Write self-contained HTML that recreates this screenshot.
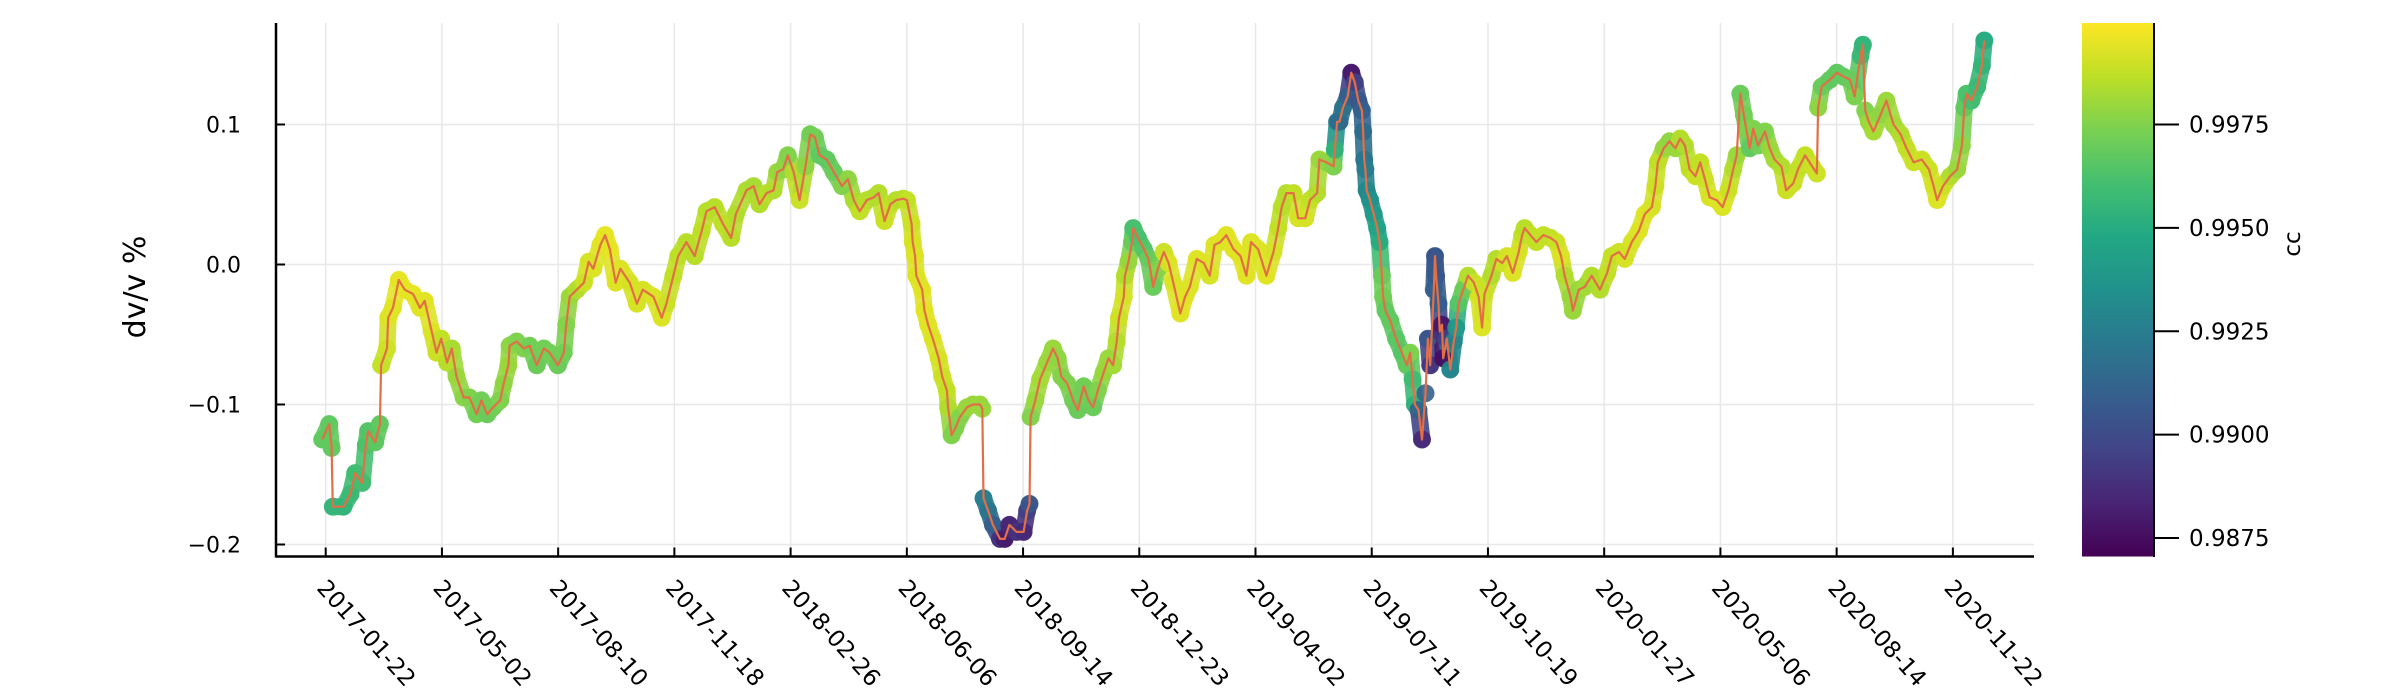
<!DOCTYPE html>
<html><head><meta charset="utf-8"><style>
html,body{margin:0;padding:0;background:#fff;}
svg{display:block;font-family:"DejaVu Sans","Liberation Sans",sans-serif;}
</style></head><body>
<svg id="chart" width="2400" height="700" viewBox="0 0 2400 700" xmlns="http://www.w3.org/2000/svg">
<defs>
<linearGradient id="viridis" x1="0" y1="1" x2="0" y2="0">
<stop offset="0" stop-color="#440154"/><stop offset="0.1" stop-color="#482475"/><stop offset="0.2" stop-color="#414487"/><stop offset="0.3" stop-color="#355f8d"/><stop offset="0.4" stop-color="#2a788e"/><stop offset="0.5" stop-color="#21918c"/><stop offset="0.6" stop-color="#22a884"/><stop offset="0.7" stop-color="#44bf70"/><stop offset="0.8" stop-color="#7ad151"/><stop offset="0.9" stop-color="#bddf26"/><stop offset="1" stop-color="#fde725"/>
</linearGradient>
<clipPath id="plotclip"><rect x="276" y="23" width="1758" height="534"/></clipPath>
</defs>
<g id="grid"></g>
<g id="marks" clip-path="url(#plotclip)"></g>
<g id="axes"></g>
<text x="0" y="0" font-size="30" text-anchor="middle" transform="translate(145,287) rotate(-90)">dv/v %</text>
<rect x="2082" y="23" width="72" height="533.5" fill="url(#viridis)"/>
<line x1="2154" y1="23" x2="2154" y2="557" stroke="#000" stroke-width="2"/>
<g id="cbticks"></g>
<text font-size="23" text-anchor="middle" transform="translate(2300,244) rotate(-90)">cc</text>
</svg>
<script>
const rawDays = [-3,3,5,6,15,21,25,31,34,36,42,46,47,52,53,57,62,67,74,80,84,90,94,98,103,107,111,117,122,128,132,137,142,148,151,155,156,162,168,173,179,185,190,197,202,204,207,213,219,223,227,233,237,241,246,250,258,264,269,278,285,289,295,299,306,313,319,323,330,337,344,348,357,363,
368,374,380,383,388,392,397,402,407,411,415,419,425,431,438,443,448,453,459,465,469,474,479,484,490,493,497,498,500,501,506,508,511,515,520,523,527,528,531,534,538,544,549,555,557,558,562,566,572,576,580,586,592,595,597,598,602,606,612,617,621,624,629,634,638,643,647,651,655,660,664,668,671,673,677,678,681,684,685,689,694,698,702,706,711,715,719,725,729,733,739,745,750,754,
759,764,770,776,781,785,791,798,804,808,811,815,821,825,831,835,841,843,849,855,856,858,860,863,867,870,873,876,879,880,881,882,883,886,889,892,894,896,897,899,903,908,913,917,920,922,924,927,930,933,935,937,940,941,942,944,945,947,948,951,954,957,959,961,965,969,974,978,981,983,989,993,998,1002,1007,1012,1015,1017,1022,1027,1033,1039,1044,1048,1051,1056,1058,1063,1068,1074,1081,1087,1091,1097,1102,1108,1114,1119,1125,1128,1130,1135,1140,1145,
1149,1153,1157,1162,1166,1170,1174,1180,1185,1190,1194,1197,1200,1203,1205,1208,1211,1215,1221,1225,1229,1235,1239,1245,1249,1255,1261,1265,1266,1269,1276,1282,1288,1293,1297,1302,1304,1306,1309,1313,1319,1324,1330,1336,1341,1347,1354,1360,1364,1367,1372,1378,1384,1388,1390,1392,1396,1401,1405,1407];
const days = rawDays.map(d => d * 1.0041);
const dvv = [-0.125,-0.114,-0.131,-0.173,-0.173,-0.164,-0.149,-0.156,-0.129,-0.119,-0.127,-0.114,-0.072,-0.060,-0.038,-0.031,-0.011,-0.018,-0.021,-0.031,-0.026,-0.048,-0.063,-0.053,-0.070,-0.060,-0.080,-0.095,-0.095,-0.107,-0.097,-0.107,-0.102,-0.097,-0.085,-0.072,-0.058,-0.055,-0.060,-0.058,-0.072,-0.060,-0.063,-0.072,-0.063,-0.043,-0.023,-0.018,-0.013,0.002,-0.003,0.014,0.021,0.011,-0.013,-0.003,-0.013,-0.028,-0.018,-0.023,-0.038,-0.028,-0.008,0.006,0.016,0.006,0.024,0.038,0.041,0.029,0.019,0.036,0.053,0.056,
0.043,0.051,0.053,0.066,0.068,0.078,0.066,0.046,0.070,0.093,0.091,0.078,0.075,0.066,0.056,0.061,0.046,0.038,0.046,0.048,0.051,0.031,0.043,0.046,0.047,0.046,0.029,0.016,0.006,-0.008,-0.018,-0.033,-0.043,-0.053,-0.067,-0.080,-0.090,-0.102,-0.122,-0.117,-0.109,-0.102,-0.100,-0.100,-0.103,-0.167,-0.176,-0.186,-0.196,-0.196,-0.186,-0.191,-0.191,-0.176,-0.171,-0.109,-0.097,-0.082,-0.070,-0.060,-0.067,-0.080,-0.085,-0.097,-0.104,-0.087,-0.097,-0.102,-0.090,-0.077,-0.067,-0.072,-0.055,-0.038,-0.023,-0.008,0.002,0.016,0.026,0.019,0.011,0.004,-0.016,-0.003,0.009,0.001,-0.013,-0.035,-0.023,-0.016,0.004,0.001,-0.008,0.014,
0.016,0.021,0.011,0.006,-0.008,0.016,0.011,-0.008,0.009,0.026,0.041,0.051,0.051,0.033,0.033,0.046,0.051,0.075,0.073,0.070,0.082,0.102,0.102,0.112,0.120,0.137,0.130,0.117,0.110,0.095,0.075,0.068,0.053,0.046,0.036,0.026,0.016,-0.008,-0.023,-0.033,-0.040,-0.053,-0.063,-0.072,-0.063,-0.082,-0.100,-0.104,-0.125,-0.092,-0.053,-0.072,-0.018,0.006,-0.008,-0.028,-0.048,-0.043,-0.067,-0.053,-0.075,-0.055,-0.045,-0.028,-0.018,-0.008,-0.013,-0.023,-0.045,-0.021,-0.008,0.004,0.001,0.006,-0.006,0.009,0.021,0.026,0.021,0.016,0.021,0.019,0.016,0.006,-0.008,-0.023,-0.033,-0.018,-0.016,-0.008,-0.018,-0.006,0.006,0.009,0.004,0.016,0.024,0.036,0.041,0.056,0.073,0.083,0.088,0.083,
0.090,0.085,0.068,0.063,0.073,0.061,0.048,0.046,0.041,0.053,0.068,0.078,0.122,0.107,0.097,0.083,0.097,0.085,0.095,0.083,0.075,0.070,0.053,0.058,0.068,0.078,0.070,0.065,0.112,0.127,0.132,0.137,0.134,0.132,0.120,0.149,0.157,0.110,0.102,0.095,0.107,0.117,0.100,0.093,0.083,0.073,0.075,0.068,0.056,0.046,0.056,0.063,0.068,0.085,0.112,0.122,0.117,0.127,0.142,0.160];
const cc = [0.9968,0.9968,0.9968,0.9955,0.9955,0.9958,0.996,0.996,0.9963,0.9965,0.9967,0.9968,0.9988,0.999,0.9993,0.9994,0.9995,0.9995,0.9995,0.9994,0.9994,0.9993,0.999,0.9988,0.9986,0.9983,0.998,0.9977,0.9975,0.9972,0.9972,0.997,0.9972,0.9975,0.9978,0.998,0.9978,0.9975,0.9975,0.9972,0.997,0.9972,0.9972,0.997,0.9972,0.9976,0.998,0.9985,0.999,0.9992,0.9993,0.9994,0.9995,0.9995,0.9993,0.9993,0.9992,0.9992,0.9992,0.9993,0.9993,0.999,0.9988,0.9987,0.9986,0.9986,0.9987,0.9986,0.9986,0.9987,0.9986,0.9985,0.9984,0.9983,
0.9985,0.9986,0.9985,0.998,0.9978,0.9975,0.9985,0.999,0.9978,0.9972,0.9972,0.9968,0.9968,0.997,0.9975,0.9978,0.9983,0.9988,0.9986,0.9985,0.9985,0.999,0.9988,0.9986,0.9986,0.9988,0.999,0.9992,0.9993,0.9993,0.9994,0.9994,0.9994,0.9993,0.9992,0.999,0.9988,0.9985,0.9975,0.9975,0.9976,0.998,0.998,0.998,0.998,0.9925,0.992,0.991,0.989,0.988,0.9885,0.989,0.9885,0.9895,0.9905,0.9975,0.998,0.9982,0.998,0.998,0.9978,0.9976,0.9975,0.9972,0.997,0.9972,0.9972,0.997,0.9975,0.998,0.998,0.9982,0.9985,0.999,0.9992,0.9985,0.998,0.997,0.9962,0.9962,0.9965,0.997,0.997,0.9975,0.999,0.9993,0.9993,0.9994,0.9994,0.9993,0.9993,0.9993,0.9992,0.9993,
0.9993,0.9994,0.9994,0.9994,0.9994,0.9993,0.9993,0.9994,0.9992,0.9988,0.9986,0.9985,0.9988,0.9992,0.9992,0.9988,0.9985,0.998,0.9978,0.9975,0.9955,0.992,0.9915,0.992,0.991,0.988,0.9895,0.9905,0.991,0.9915,0.992,0.9925,0.993,0.9935,0.994,0.9945,0.995,0.997,0.9972,0.9968,0.9968,0.9966,0.9965,0.9968,0.9975,0.996,0.9955,0.991,0.9885,0.991,0.9905,0.989,0.991,0.9905,0.9905,0.991,0.989,0.988,0.9875,0.9895,0.993,0.993,0.994,0.9965,0.997,0.9985,0.999,0.9992,0.9993,0.999,0.9985,0.9985,0.999,0.9992,0.9993,0.9992,0.9988,0.9986,0.9988,0.9988,0.9988,0.9988,0.999,0.9993,0.9985,0.998,0.998,0.998,0.9982,0.9985,0.9985,0.9988,0.9988,0.999,0.9992,0.9992,0.9993,0.9993,0.9992,0.999,0.9988,0.998,0.9978,0.998,
0.9985,0.9985,0.9987,0.999,0.9988,0.999,0.9992,0.9993,0.9993,0.999,0.9985,0.998,0.997,0.9972,0.9975,0.9968,0.9975,0.9972,0.9975,0.998,0.9982,0.9985,0.999,0.999,0.9988,0.9988,0.999,0.999,0.9978,0.997,0.9968,0.9968,0.9968,0.997,0.9975,0.9958,0.9955,0.9975,0.998,0.9983,0.9978,0.998,0.9982,0.9985,0.9988,0.999,0.999,0.999,0.9992,0.9993,0.999,0.9985,0.998,0.9978,0.9968,0.9963,0.996,0.9958,0.9955,0.995];
const xTickDays = [0,99,198,297,396,495,594,693,792,891,990,1089,1188,1287,1386];
const xTickLabels = ["2017-01-22","2017-05-02","2017-08-10","2017-11-18","2018-02-26","2018-06-06","2018-09-14","2018-12-23","2019-04-02","2019-07-11","2019-10-19","2020-01-27","2020-05-06","2020-08-14","2020-11-22"];
const yTicks = [0.1,0.0,-0.1,-0.2];
const yTickLabels = ["0.1","0.0","\u22120.1","\u22120.2"];
const cbTicks = [0.9975,0.9950,0.9925,0.9900,0.9875];
const cbTickLabels = ["0.9975","0.9950","0.9925","0.9900","0.9875"];
const ccMin = 0.98706, ccMax = 0.99999;

const NS = "http://www.w3.org/2000/svg";
const X0 = 276, X1 = 2034, YT = 23, YB = 556.5;
function xs(d){ return 325.7 + d * 1.174; }
function ys(v){ return 264.5 - v * 1400; }
const cbA = 124.5, cbB = 538;
function cbY(c){ return cbB + (c - 0.9875) / 0.01 * (cbA - cbB); }
const vir = ["#440154","#482475","#414487","#355f8d","#2a788e","#21918c","#22a884","#44bf70","#7ad151","#bddf26","#fde725"];
function hex(h){ return [1,3,5].map(i=>parseInt(h.substr(i,2),16)); }
function viridis(c){
  let t = Math.max(0, Math.min(1, (c - ccMin) / (ccMax - ccMin)));
  let f = t * 10, i = Math.min(9, Math.floor(f)), u = f - i;
  const a = hex(vir[i]), b = hex(vir[i+1]);
  return "rgb(" + a.map((v,k)=>Math.round(v + (b[k]-v)*u)).join(",") + ")";
}
function mk(tag, attrs, parent){ const e = document.createElementNS(NS, tag); for (const k in attrs) e.setAttribute(k, attrs[k]); parent.appendChild(e); return e; }

const grid = document.getElementById("grid");
const axes = document.getElementById("axes");
const marks = document.getElementById("marks");
const cbt = document.getElementById("cbticks");

xTickDays.forEach((d, i) => {
  const x = xs(d);
  const g = mk("line", {x1:x, y1:YT, x2:x, y2:YB, stroke:"#e8e8e8", "stroke-width":1.5}, grid);
  
  
  const t = mk("line", {x1:x, y1:YB, x2:x, y2:YB-9, stroke:"#000", "stroke-width":2}, axes);
  
  
  const lb = mk("text", {x:0, y:0, "font-size":23, transform:"translate(" + (x+2) + ",578) rotate(48)", "dominant-baseline":"hanging"}, axes);
  lb.textContent = xTickLabels[i];
  
  
});
yTicks.forEach((v, i) => {
  const y = ys(v);
  const g = mk("line", {x1:X0, y1:y, x2:X1, y2:y, stroke:"#e8e8e8", "stroke-width":1.5}, grid);
  
  
  const t = mk("line", {x1:X0, y1:y, x2:X0+9, y2:y, stroke:"#000", "stroke-width":2}, axes);
  
  
  const lb = mk("text", {x:241, y:y+8, "font-size":22, "text-anchor":"end"}, axes);
  lb.textContent = yTickLabels[i];
  
  
});
const la = mk("line", {x1:X0, y1:YT, x2:X0, y2:YB+1, stroke:"#000", "stroke-width":2.5}, axes);


const lbx = mk("line", {x1:X0, y1:YB, x2:X1, y2:YB, stroke:"#000", "stroke-width":2.5}, axes);



for (let i = 1; i < days.length; i++) {
  if (days[i] - days[i-1] > 9.5 || Math.abs(dvv[i] - dvv[i-1]) > 0.03) continue;
  const s = mk("line", {x1:xs(days[i-1]).toFixed(1), y1:ys(dvv[i-1]).toFixed(1), x2:xs(days[i]).toFixed(1), y2:ys(dvv[i]).toFixed(1), stroke:viridis((cc[i]+cc[i-1])/2), "stroke-width":17, "stroke-linecap":"round", "stroke-opacity":0.9}, marks);
  
  
}
days.forEach((d, i) => {
  const c = mk("circle", {cx:xs(d).toFixed(1), cy:ys(dvv[i]).toFixed(1), r:9, fill:viridis(cc[i]), "fill-opacity":0.9}, marks);
  
  
});
const pts = days.map((d, i) => xs(d).toFixed(1) + "," + ys(dvv[i]).toFixed(1)).join(" ");
const pl = mk("polyline", {points:pts, fill:"none", stroke:"#e26f46", "stroke-width":2.2, "stroke-linejoin":"round"}, marks);



cbTicks.forEach((c, i) => {
  const y = cbY(c);
  const t = mk("line", {x1:2154, y1:y, x2:2179, y2:y, stroke:"#000", "stroke-width":2}, cbt);
  
  
  const lb = mk("text", {x:2189, y:y+8, "font-size":23}, cbt);
  lb.textContent = cbTickLabels[i];
  
  
});
</script>
</body></html>
